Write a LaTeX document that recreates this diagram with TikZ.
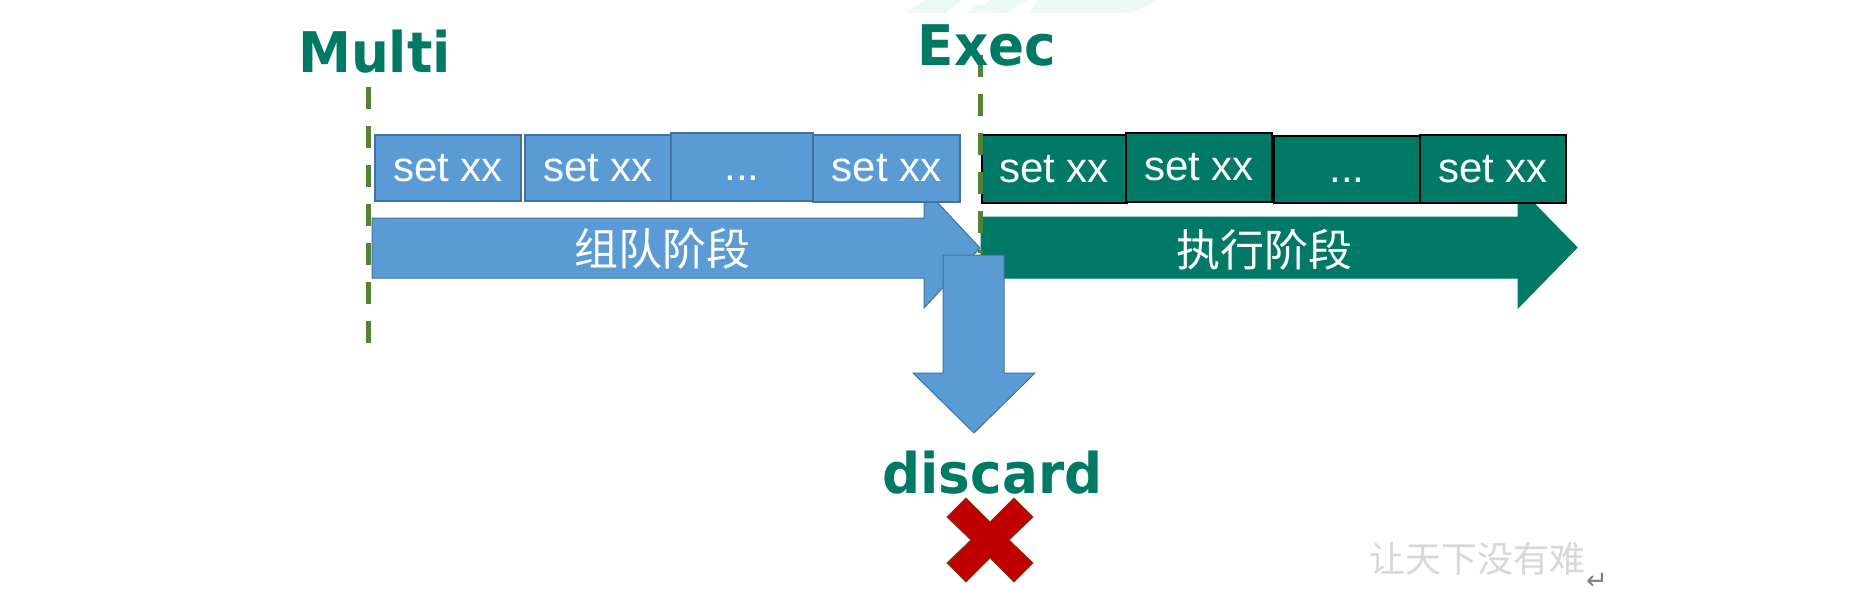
\documentclass[tikz,border=0pt]{standalone}
\usepackage{fontspec}
\newfontfamily\titlefont[FakeStretch=0.95]{DejaVu Sans}
\newfontfamily\setfont{Liberation Sans}
\newfontfamily\cjk{Noto Sans CJK SC}
\newfontfamily\symfont{DejaVu Sans}
\definecolor{myblue}{RGB}{91,155,213}
\definecolor{blueedge}{RGB}{65,113,156}
\definecolor{mygreen}{RGB}{0,122,102}
\definecolor{titlegreen}{RGB}{0,122,100}
\definecolor{guidegreen}{RGB}{84,130,53}
\definecolor{xred}{RGB}{192,0,0}
\definecolor{xedge}{RGB}{110,70,20}
\definecolor{faint}{RGB}{236,248,245}
\definecolor{wmgray}{RGB}{215,215,215}
\begin{document}
\begin{tikzpicture}[x=1pt,y=-1pt,
  bluebox/.style={draw=blueedge, line width=1.5pt, fill=myblue, inner sep=0pt, text=white, font=\setfont\fontsize{42}{46}\selectfont},
  greenbox/.style={draw=black, line width=2pt, fill=mygreen, inner sep=0pt, text=white, font=\setfont\fontsize{42}{46}\selectfont},
  bluearrow/.style={draw=blueedge, line width=1pt, fill=myblue},
  greenarrow/.style={draw=mygreen, line width=1pt, fill=mygreen},
  title/.style={text=titlegreen, font=\titlefont\bfseries\fontsize{56}{60}\selectfont, anchor=base, inner sep=0pt},
  phase/.style={text=white, font=\cjk\fontsize{44}{48}\selectfont, inner sep=0pt},
  guide/.style={draw=guidegreen, line width=5pt, dash pattern=on 22pt off 17pt}
]
\useasboundingbox (0,0) rectangle (1851,602);
\fill[white] (0,0) rectangle (1851,602);

% faint watermark shapes at the top
\fill[faint] (905,13) -- (925,0) -- (962,0) -- (945,13) -- cycle;
\fill[faint] (968,13) -- (975,5) -- (985,5) -- (990,0) -- (1027,0) -- (1006,13) -- cycle;
\fill[faint] (1030,13) -- (1037,0) -- (1155,0) .. controls (1145,10) and (1130,13) .. (1112,13) -- cycle;

% phase arrows
\draw[bluearrow] (372,218) -- (924,218) -- (924,188) -- (980,248) -- (924,308) -- (924,278) -- (372,278) -- cycle;
\draw[greenarrow] (981,217) -- (1518,217) -- (1518,187) -- (1577,247.5) -- (1518,308) -- (1518,278) -- (981,278) -- cycle;
\node[phase] (p1) at (662,249) {组队阶段};
\node[phase] (p2) at (1264,250) {执行阶段};

% command boxes
\node[bluebox, minimum width=146pt, minimum height=66pt] (b1) at (448,168) {set xx};
\node[bluebox, minimum width=146pt, minimum height=66pt] (b2) at (598,168) {set xx};
\node[bluebox, minimum width=142pt, minimum height=68pt] (b3) at (742,167) {\vphantom{set xx}...};
\node[bluebox, minimum width=147pt, minimum height=67pt] (b4) at (886.5,168.5) {set xx};

\node[greenbox, minimum width=145pt, minimum height=68pt] (g1) at (1054,169) {set xx};
\node[greenbox, minimum width=146pt, minimum height=69pt] (g2) at (1199,167.5) {set xx};
\node[greenbox, minimum width=146pt, minimum height=67pt] (g3) at (1347,169.5) {\vphantom{set xx}...};
\node[greenbox, minimum width=146pt, minimum height=68pt] (g4) at (1493,169) {set xx};

% discard arrow
\draw[bluearrow] (943,255) -- (1004,255) -- (1004,373) -- (1035,373) -- (974,433) -- (913,373) -- (943,373) -- cycle;

% guide lines
\coordinate (m1) at (368,87);
\coordinate (m2) at (368,346);
\coordinate (e1) at (980,55);
\coordinate (e2) at (980,253);
\draw[guide] (m1) -- (m2);
\draw[guide] (e1) -- (e2);

% titles
\node[title] (multi) at (374.5,72) {Multi};
\node[title] (exec) at (987,65) {Exec};
\node[title] (discard) at (992.5,493) {discard};

% red cross
\draw[fill=xred, draw=xedge, line width=1pt]
  (947,517) -- (966,498) -- (990,522) -- (1014,498) -- (1033,517) -- (1009,540)
  -- (1033,563) -- (1014,582) -- (990,558) -- (966,582) -- (947,563) -- (971,540) -- cycle;

% watermark text
\node[text=wmgray, font=\cjk\fontsize{36}{40}\selectfont, inner sep=0pt] (wm) at (1477,559) {让天下没有难};
\node[text=gray, font=\symfont\fontsize{26}{28}\selectfont, inner sep=0pt] (ret) at (1597,581) {↵};
\end{tikzpicture}
\end{document}
